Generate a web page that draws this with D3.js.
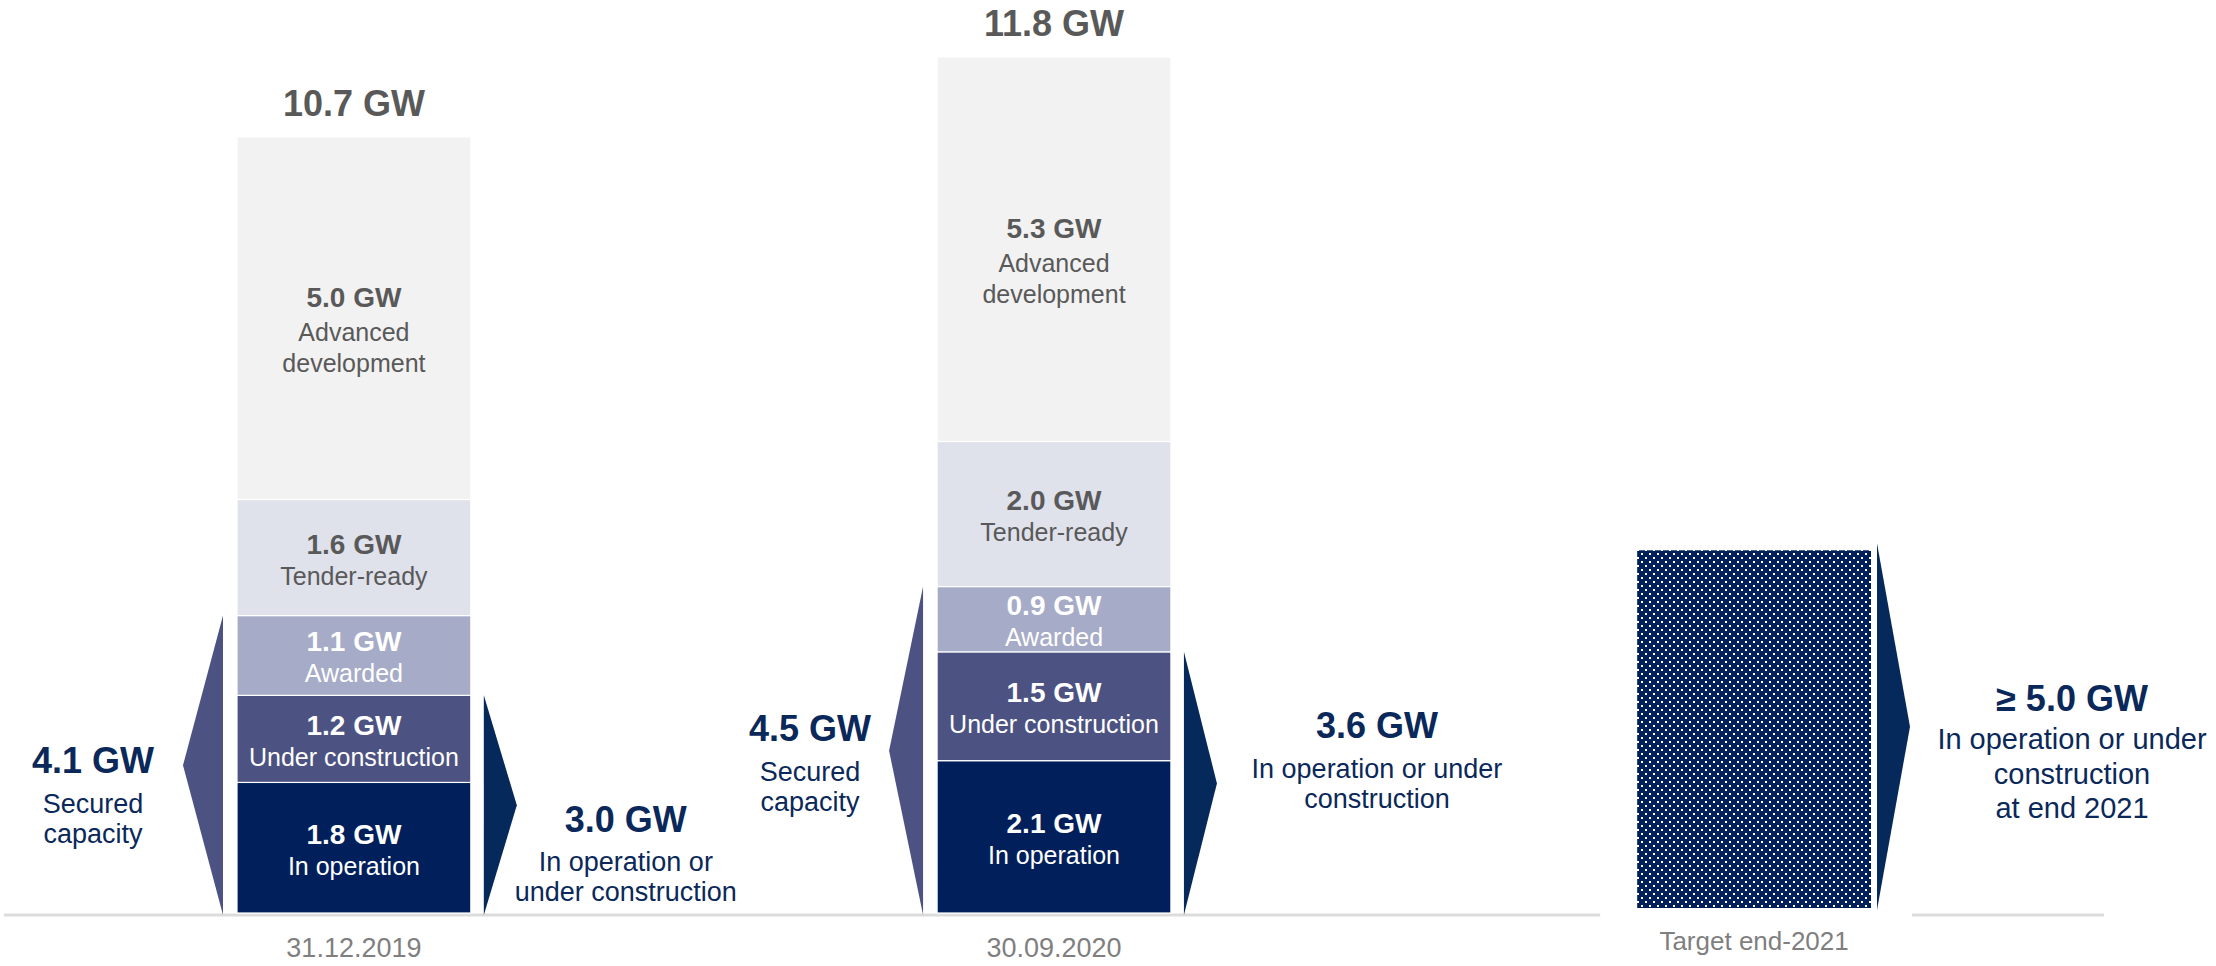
<!DOCTYPE html>
<html><head><meta charset="utf-8">
<script src="https://cdn.jsdelivr.net/npm/d3@7"></script>
<style>html,body{margin:0;padding:0;background:#fff;} svg{display:block;font-family:"Liberation Sans",Arial,Helvetica,sans-serif;}</style>
</head><body><svg id="chart" width="2216" height="966"></svg>
<script>
// ---------- data ----------
const categories = ["31.12.2019", "30.09.2020", "Target end-2021"];
const stages = ["In operation", "Under construction", "Awarded", "Tender-ready", "Advanced development"];
const stageLines = [["In operation"], ["Under construction"], ["Awarded"], ["Tender-ready"], ["Advanced", "development"]];
const values2019 = [1.8, 1.2, 1.1, 1.6, 5.0];
const values2020 = [2.1, 1.5, 0.9, 2.0, 5.3];
const totals = [10.7, 11.8];
const securedCapacity = [4.1, 4.5];
const securedLines = ["Secured", "capacity"];
const operationOrConstruction = [3.0, 3.6];
const operationLines = [["In operation or", "under construction"], ["In operation or under", "construction"]];
const targetValue = 5.0;
const targetPrefix = "≥";
const targetLines = ["In operation or under", "construction", "at end 2021"];

// ---------- style ----------
const stageFill = ["#001f5b", "#4c5282", "#a6abc7", "#dfe1eb", "#f2f2f2"];
const stageText = ["#ffffff", "#ffffff", "#ffffff", "#595959", "#595959"];
const navy = "#0a2859";
const leftArrowFill = "#4c5282";
const rightArrowFill = "#05295a";
const grayText = "#595959";
const axisText = "#7f7f7f";

const svg = d3.select("#chart");
const defs = svg.append("defs");
const pat = defs.append("pattern").attr("id", "dots").attr("patternUnits", "userSpaceOnUse")
  .attr("width", 8).attr("height", 8);
pat.append("rect").attr("width", 8).attr("height", 8).attr("fill", "#001f5b");
pat.append("rect").attr("x", 1).attr("y", 1).attr("width", 2).attr("height", 2).attr("fill", "#ffffff");
pat.append("rect").attr("x", 5).attr("y", 5).attr("width", 2).attr("height", 2).attr("fill", "#ffffff");

// scales
const x = d3.scaleBand().domain(categories).range([237, 1871]).paddingInner(0.666).paddingOuter(0);
const y = d3.scaleLinear().domain([0, 11.8]).range([913, 57]);
const bw = x.bandwidth();

// baseline
const baseY = y(0) + 2;
svg.append("line").attr("x1", 4).attr("x2", x(categories[2]) - 37).attr("y1", baseY).attr("y2", baseY)
  .attr("stroke", "#dcdcdc").attr("stroke-width", 3);
svg.append("line").attr("x1", x(categories[2]) + bw + 41).attr("x2", x(categories[2]) + bw + 233)
  .attr("y1", baseY).attr("y2", baseY).attr("stroke", "#dcdcdc").attr("stroke-width", 3);

// stacked bars
const rows = [values2019, values2020].map((vals, i) => {
  const r = { cat: categories[i] };
  stages.forEach((s, j) => r[s] = vals[j]);
  return r;
});
const series = d3.stack().keys(stages)(rows);

series.forEach((ser, si) => {
  const g = svg.append("g");
  g.selectAll("rect").data(ser).join("rect")
    .attr("x", d => x(d.data.cat)).attr("width", bw)
    .attr("y", d => y(d[1])).attr("height", d => y(d[0]) - y(d[1]))
    .attr("fill", stageFill[si]).attr("stroke", "#fff").attr("stroke-width", 1.2);

  ser.forEach(d => {
    const cx = x(d.data.cat) + bw / 2;
    const mid = (y(d[0]) + y(d[1])) / 2;
    const lines = stageLines[si];
    const v0 = lines.length === 1 ? mid - 4 : mid - 11;
    const t = svg.append("text").attr("text-anchor", "middle").attr("fill", stageText[si]);
    t.append("tspan").attr("x", cx).attr("y", v0).attr("font-size", 28).attr("font-weight", "bold")
      .text(`${(d[1] - d[0]).toFixed(1)} GW`);
    lines.forEach((ln, k) => {
      const yy = lines.length === 1 ? v0 + 31 : v0 + 34 + k * 31;
      t.append("tspan").attr("x", cx).attr("y", yy).attr("font-size", 25).text(ln);
    });
  });
});

// totals
totals.forEach((tv, i) => {
  svg.append("text").attr("x", x(categories[i]) + bw / 2).attr("y", y(tv) - 21)
    .attr("text-anchor", "middle").attr("font-size", 36).attr("font-weight", "bold")
    .attr("fill", grayText).text(`${tv.toFixed(1)} GW`);
});

// category labels
categories.forEach((c, i) => {
  svg.append("text").attr("x", x(c) + bw / 2).attr("y", i < 2 ? 957 : 950)
    .attr("text-anchor", "middle").attr("font-size", i < 2 ? 27 : 26).attr("fill", axisText).text(c);
});

// left arrows (secured capacity)
const leftW = [40, 34];
const leftLabelDx = [144, 127];
const leftOffs = [[8, 48, 78], [-10, 30, 60]];
securedCapacity.forEach((v, i) => {
  const xr = x(categories[i]) - 14;
  const top = y(v), bot = y(0) + 2;
  const mid = (top + bot) / 2;
  svg.append("path").attr("d", `M${xr},${top} L${xr - leftW[i]},${mid} L${xr},${bot} Z`).attr("fill", leftArrowFill);
  const cx = x(categories[i]) - leftLabelDx[i];
  const t = svg.append("text").attr("text-anchor", "middle").attr("fill", navy);
  t.append("tspan").attr("x", cx).attr("y", mid + leftOffs[i][0]).attr("font-size", 36).attr("font-weight", "bold")
    .text(`${v.toFixed(1)} GW`);
  securedLines.forEach((ln, k) => t.append("tspan").attr("x", cx).attr("y", mid + leftOffs[i][k + 1])
    .attr("font-size", 27).text(ln));
});

// right arrows (in operation or under construction)
const rightW = 33;
const rightLabelDx = [155, 206];
const rightOffs = [[27, 66, 96], [-45, -5, 25]];
operationOrConstruction.forEach((v, i) => {
  const xl = x(categories[i]) + bw + 13;
  const top = y(v), bot = y(0) + 2;
  const mid = (top + bot) / 2;
  svg.append("path").attr("d", `M${xl},${top} L${xl + rightW},${mid} L${xl},${bot} Z`).attr("fill", rightArrowFill);
  const cx = x(categories[i]) + bw + rightLabelDx[i];
  const t = svg.append("text").attr("text-anchor", "middle").attr("fill", navy);
  t.append("tspan").attr("x", cx).attr("y", mid + rightOffs[i][0]).attr("font-size", 36).attr("font-weight", "bold")
    .text(`${v.toFixed(1)} GW`);
  operationLines[i].forEach((ln, k) => t.append("tspan").attr("x", cx).attr("y", mid + rightOffs[i][k + 1])
    .attr("font-size", 27).text(ln));
});

// target bar
const tx = x(categories[2]);
svg.append("rect").attr("x", tx).attr("width", bw).attr("y", y(targetValue)).attr("height", y(0) - 5 - y(targetValue))
  .attr("fill", "url(#dots)");
{
  const xl = tx + bw + 6;
  const top = y(targetValue) - 7, bot = y(0) - 3;
  const mid = (top + bot) / 2;
  svg.append("path").attr("d", `M${xl},${top} L${xl + 33},${mid} L${xl},${bot} Z`).attr("fill", rightArrowFill);
  const cx = tx + bw + 201;
  const offs = [-16, 22, 57, 91];
  const t = svg.append("text").attr("text-anchor", "middle").attr("fill", navy);
  const first = t.append("tspan").attr("x", cx).attr("y", mid + offs[0]).attr("font-size", 36).attr("font-weight", "bold");
  first.append("tspan").text(targetPrefix);
  first.append("tspan").text(` ${targetValue.toFixed(1)} GW`);
  targetLines.forEach((ln, k) => t.append("tspan").attr("x", cx).attr("y", mid + offs[k + 1])
    .attr("font-size", 29).text(ln));
}
</script></body></html>
